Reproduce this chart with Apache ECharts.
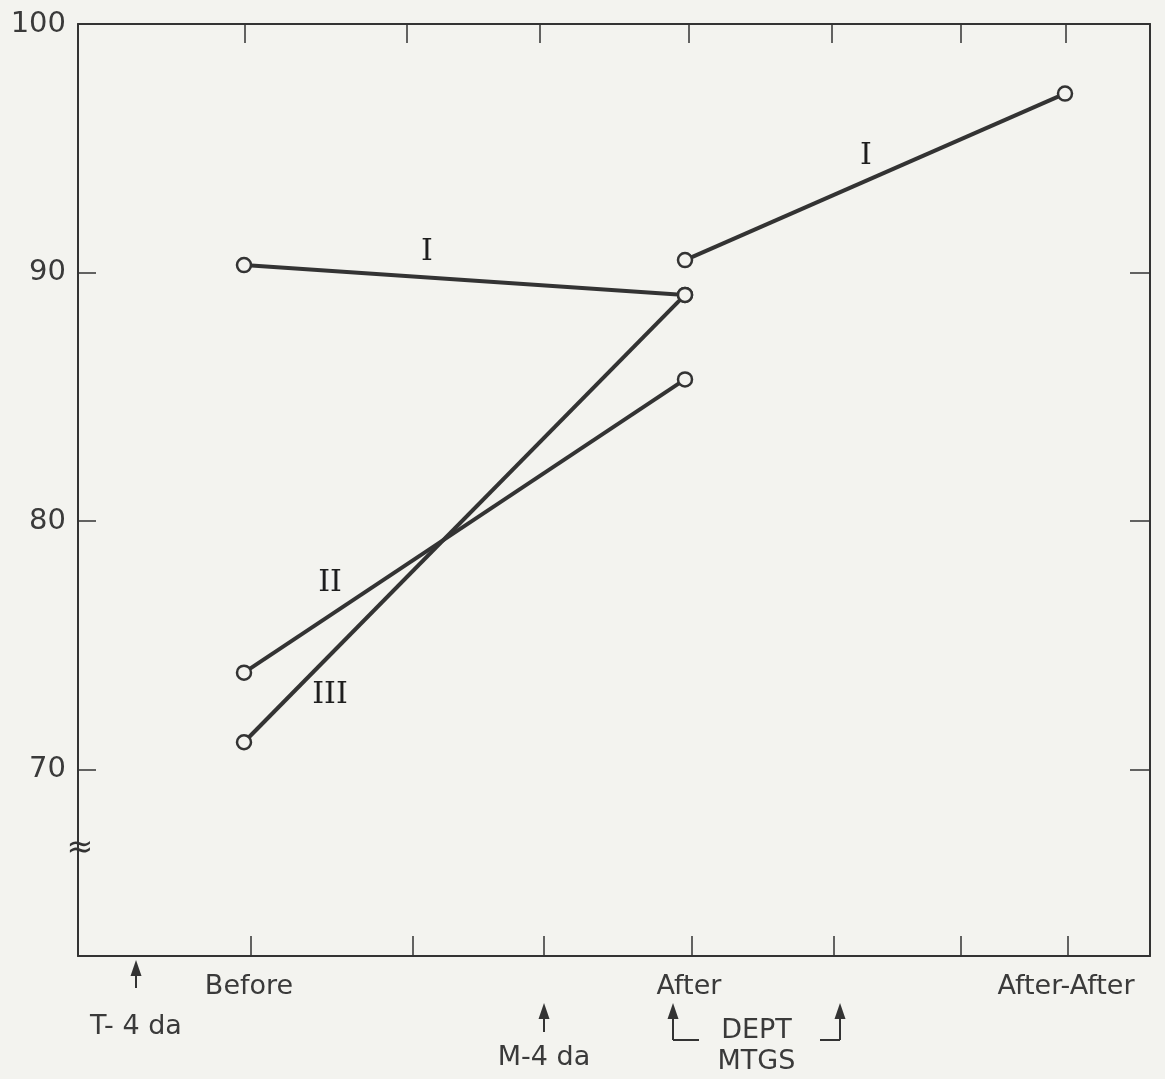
<!DOCTYPE html>
<html>
<head>
<meta charset="utf-8">
<script src="https://cdn.jsdelivr.net/npm/echarts@6/dist/echarts.min.js"></script>
<style>
html,body{margin:0;padding:0;background:#f3f3ef;}
#chart{width:1165px;height:1079px;}
</style>
</head>
<body>
<div id="chart"></div>
<script>
// ---- data ----
const categories = ['Before', 'After', 'After-After'];
const categoryX = [16.6, 60.7, 98.7];          // position of each stage on the time scale
const categoryLabelX = [17.1, 61.1, 98.8];     // where stage names are printed
const seriesI_a = [90.3, 89.1];                // Before -> After
const seriesI_b = [90.5, 97.2];                // After -> After-After
const seriesII = [73.9, 85.7];                 // Before -> After
const seriesIII = [71.1, 89.1];                // Before -> After
const yTickLabels = [70, 80, 90, 100];
const yTicks = [70, 80, 90];
const xTicksBottom = [17.3, 33.5, 46.6, 61.4, 75.6, 88.3, 99.0];
const xTicksTop = [16.7, 32.9, 46.2, 61.1, 75.4, 88.3, 98.8];
const lineLabels = [[34.9, 90.8, 'I'], [78.8, 94.7, 'I'], [25.2, 77.5, 'II'], [25.2, 73.0, 'III']];
const eventArrows = [5.8, 46.6];               // T-4da, M-4da
const eventNames = ['T- 4 da', 'M-4 da'];
const deptArrows = [59.5, 76.2];               // DEPT MTGS bracket
const xMin = 0, xMax = 107.2, yMin = 62.5, yMax = 100;

const INK = '#333';
const TXT = '#3a3a3a';
const BG = '#f3f3ef';
const FONT = 'DejaVu Sans';

const chart = echarts.init(document.getElementById('chart'), null, {renderer: 'canvas'});

function seg(xIdx, vals) {
  return [[categoryX[xIdx[0]], vals[0]], [categoryX[xIdx[1]], vals[1]]];
}
function lineSeries(name, data) {
  return {
    name, type: 'line', data, symbol: 'circle', symbolSize: 14,
    lineStyle: {color: INK, width: 4},
    itemStyle: {color: BG, borderColor: INK, borderWidth: 2.5},
    z: 3, animation: false
  };
}

const option = {
  backgroundColor: BG,
  animation: false,
  grid: {left: 78, right: 15, top: 24, bottom: 123},
  xAxis: [{
    type: 'value', min: xMin, max: xMax, position: 'bottom',
    axisLine: {show: true, onZero: false, lineStyle: {color: INK, width: 2}},
    axisTick: {show: true, inside: true, length: 20, customValues: xTicksBottom, lineStyle: {color: INK, width: 1.5}},
    axisLabel: {
      show: true, customValues: categoryLabelX, margin: 17,
      fontFamily: FONT, fontSize: 27, color: TXT,
      formatter: v => {
        let best = 0;
        categoryLabelX.forEach((c, i) => { if (Math.abs(c - v) < Math.abs(categoryLabelX[best] - v)) best = i; });
        return categories[best];
      }
    },
    splitLine: {show: false}
  }, {
    type: 'value', min: xMin, max: xMax, position: 'top',
    axisLine: {show: true, onZero: false, lineStyle: {color: INK, width: 2}},
    axisTick: {show: true, inside: true, length: 19, customValues: xTicksTop, lineStyle: {color: INK, width: 1.5}},
    axisLabel: {show: false},
    splitLine: {show: false}
  }],
  yAxis: [{
    type: 'value', min: yMin, max: yMax, position: 'left',
    axisLine: {show: true, onZero: false, lineStyle: {color: INK, width: 2}},
    axisTick: {show: true, inside: true, length: 18, customValues: yTicks, lineStyle: {color: INK, width: 1.5}},
    axisLabel: {show: true, customValues: yTickLabels, margin: 12, fontFamily: FONT, fontSize: 29, color: TXT},
    splitLine: {show: false}
  }, {
    type: 'value', min: yMin, max: yMax, position: 'right',
    axisLine: {show: true, onZero: false, lineStyle: {color: INK, width: 2}},
    axisTick: {show: true, inside: true, length: 20, customValues: yTicks, lineStyle: {color: INK, width: 1.5}},
    axisLabel: {show: false},
    splitLine: {show: false}
  }],
  series: [
    lineSeries('I (Before-After)', seg([0, 1], seriesI_a)),
    lineSeries('I (After-After)', seg([1, 2], seriesI_b)),
    lineSeries('II', seg([0, 1], seriesII)),
    lineSeries('III', seg([0, 1], seriesIII)),
    {
      name: 'labels', type: 'scatter', data: lineLabels, symbolSize: 1,
      itemStyle: {color: 'rgba(0,0,0,0)', opacity: 1},
      label: {show: true, position: 'inside', formatter: p => p.data[2],
        fontFamily: 'DejaVu Serif', fontSize: 30, color: '#1e1e1e', opacity: 1},
      z: 4, silent: true
    }
  ]
};
chart.setOption(option);

// annotations below the axis, positioned through the x scale
const gBottom = 1079 - 123;
const px = v => chart.convertToPixel({xAxisIndex: 0}, v);
const graphics = [];
function arrow(x, yTop, yBot) {
  graphics.push({type: 'polygon', shape: {points: [[x, yTop], [x - 5.5, yTop + 16], [x + 5.5, yTop + 16]]}, style: {fill: INK}});
  graphics.push({type: 'line', shape: {x1: x, y1: yTop + 10, x2: x, y2: yBot}, style: {stroke: INK, lineWidth: 2}});
}
function text(x, y, t, size) {
  graphics.push({type: 'text', x, y, style: {text: t, font: size + 'px ' + FONT, fill: TXT, align: 'center', verticalAlign: 'middle'}});
}
// T-4da
arrow(px(eventArrows[0]), gBottom + 4, gBottom + 32);
text(px(eventArrows[0]), gBottom + 71, eventNames[0], 27);
// M-4da
arrow(px(eventArrows[1]), gBottom + 47, gBottom + 76);
text(px(eventArrows[1]), gBottom + 102, eventNames[1], 27);
// DEPT MTGS bracket
const dl = px(deptArrows[0]), dr = px(deptArrows[1]);
arrow(dl, gBottom + 47, gBottom + 84);
arrow(dr, gBottom + 47, gBottom + 84);
graphics.push({type: 'line', shape: {x1: dl, y1: gBottom + 84, x2: dl + 26, y2: gBottom + 84}, style: {stroke: INK, lineWidth: 2}});
graphics.push({type: 'line', shape: {x1: dr - 20, y1: gBottom + 84, x2: dr, y2: gBottom + 84}, style: {stroke: INK, lineWidth: 2}});
text((dl + dr) / 2, gBottom + 75, 'DEPT', 27);
text((dl + dr) / 2, gBottom + 106, 'MTGS', 27);
// axis break mark
const breakY = chart.convertToPixel({yAxisIndex: 0}, 66.8);
graphics.push({type: 'text', x: 80, y: breakY, style: {text: '≈', font: '32px ' + FONT, fill: INK, align: 'center', verticalAlign: 'middle'}, z: 10});

chart.setOption({graphic: graphics});
</script>
</body>
</html>
